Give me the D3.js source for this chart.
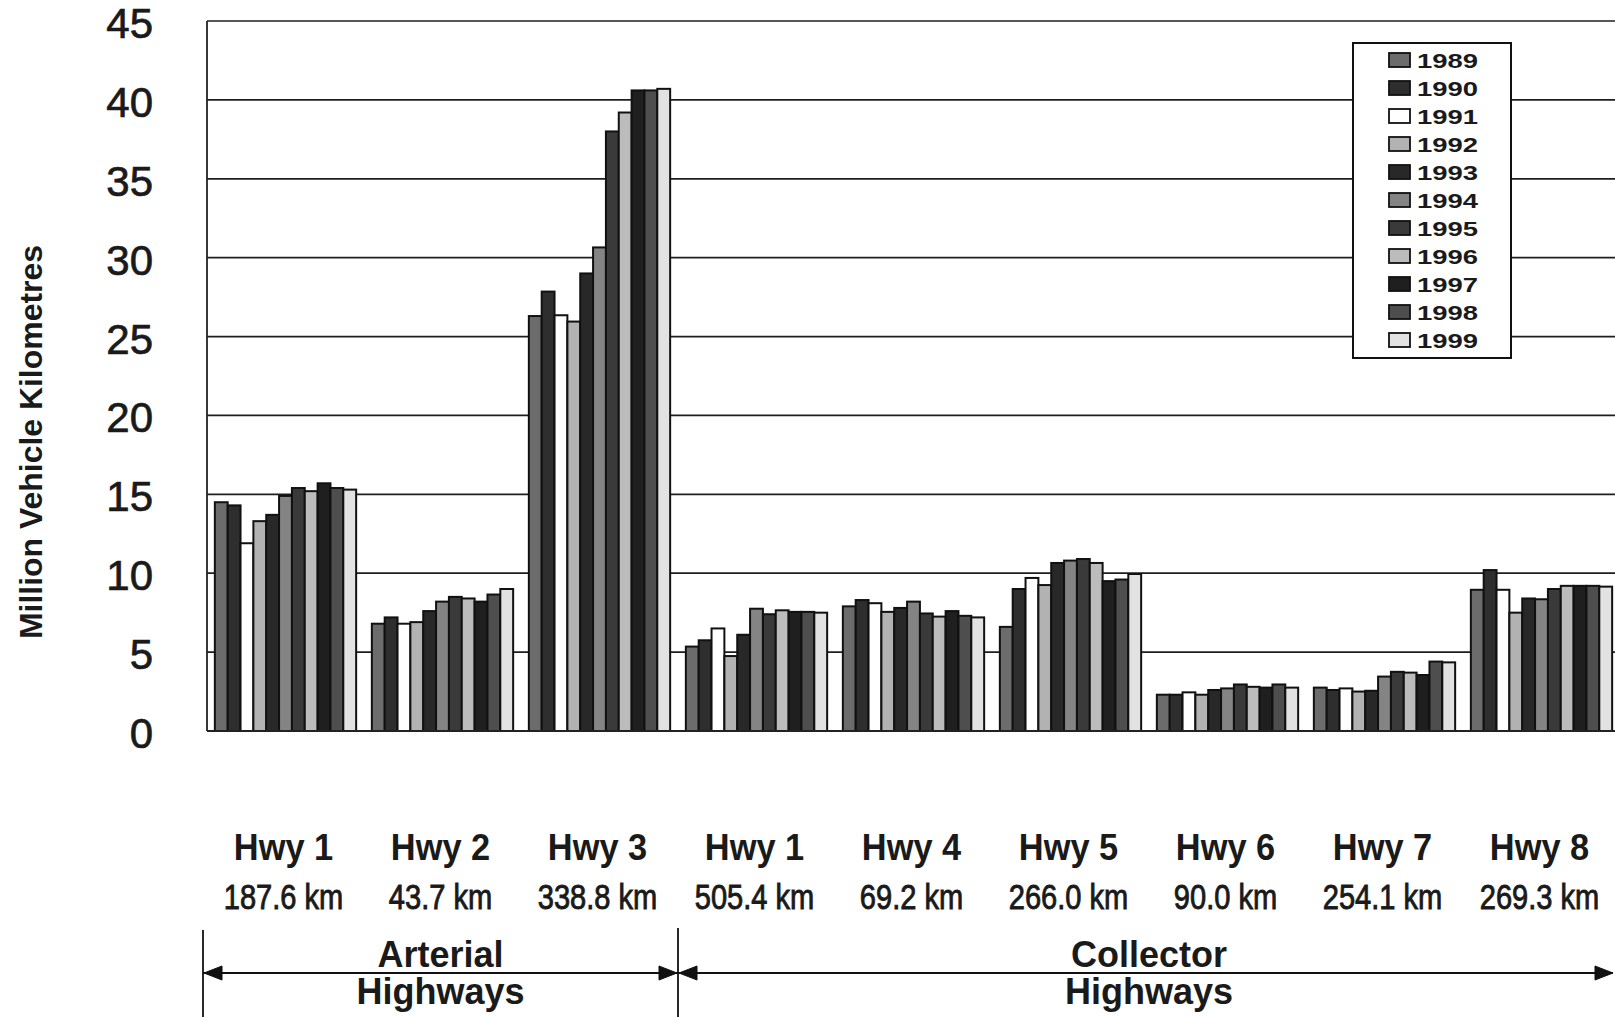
<!DOCTYPE html>
<html>
<head>
<meta charset="utf-8">
<script src="https://cdn.jsdelivr.net/npm/d3@7"></script>
<style>
  html, body { margin: 0; padding: 0; background: #fff; }
  svg { display: block; font-family: "Liberation Sans", Arial, sans-serif; }
</style>
</head>
<body>
<svg id="chart" width="1615" height="1017"></svg>
<script>
// ── Data ────────────────────────────────────────────────────────────
const highways = ["Hwy 1", "Hwy 2", "Hwy 3", "Hwy 1", "Hwy 4", "Hwy 5", "Hwy 6", "Hwy 7", "Hwy 8"];
const lengths  = ["187.6 km", "43.7 km", "338.8 km", "505.4 km", "69.2 km", "266.0 km", "90.0 km", "254.1 km", "269.3 km"];
const years    = [1989, 1990, 1991, 1992, 1993, 1994, 1995, 1996, 1997, 1998, 1999];
const yTicks   = [0, 5, 10, 15, 20, 25, 30, 35, 40, 45];

// million vehicle km per highway, 1989 → 1999
const arterialHwy1  = [14.5, 14.3, 11.9, 13.3, 13.7, 14.9, 15.4, 15.2, 15.7, 15.4, 15.3];
const arterialHwy2  = [6.8, 7.2, 6.8, 6.9, 7.6, 8.2, 8.5, 8.4, 8.2, 8.65, 9.0];
const arterialHwy3  = [26.3, 27.85, 26.35, 25.95, 29.0, 30.65, 38.0, 39.2, 40.6, 40.6, 40.7];
const collectorHwy1 = [5.35, 5.75, 6.5, 4.75, 6.1, 7.75, 7.4, 7.65, 7.55, 7.55, 7.5];
const collectorHwy4 = [7.9, 8.3, 8.1, 7.55, 7.8, 8.2, 7.45, 7.25, 7.6, 7.3, 7.2];
const collectorHwy5 = [6.6, 9.0, 9.7, 9.25, 10.65, 10.8, 10.9, 10.65, 9.5, 9.6, 9.95];
const collectorHwy6 = [2.3, 2.3, 2.45, 2.3, 2.6, 2.7, 2.95, 2.8, 2.75, 2.95, 2.75];
const collectorHwy7 = [2.75, 2.6, 2.7, 2.5, 2.55, 3.45, 3.75, 3.7, 3.55, 4.4, 4.35];
const collectorHwy8 = [8.95, 10.2, 8.95, 7.5, 8.4, 8.35, 9.0, 9.2, 9.2, 9.2, 9.15];

const series = [arterialHwy1, arterialHwy2, arterialHwy3, collectorHwy1, collectorHwy4,
                collectorHwy5, collectorHwy6, collectorHwy7, collectorHwy8];

// greyscale fills per year
const yearFills = ["#6c6c6c", "#2e2e2e", "#ffffff", "#b2b2b2", "#282828", "#848484",
                   "#3a3a3a", "#bcbcbc", "#1f1f1f", "#4e4e4e", "#e2e2e2"];

// ── Layout ──────────────────────────────────────────────────────────
const W = 1615, H = 1017;
const plotLeft = 207, plotRight = 1620, plotTop = 21, plotBottom = 731;
const ink = "#1a1a1a";

const svg = d3.select("#chart");
svg.append("rect").attr("width", W).attr("height", H).attr("fill", "#fff");

const x = d3.scaleBand()
    .domain(d3.range(highways.length))
    .range([plotLeft, plotRight])
    .paddingInner(0.1)
    .paddingOuter(0.05);

const xYear = d3.scaleBand()
    .domain(years)
    .range([0, x.bandwidth()]);

const y = d3.scaleLinear().domain([0, 45]).range([plotBottom, plotTop]);

// ── Gridlines ───────────────────────────────────────────────────────
svg.append("g")
    .selectAll("line")
    .data(yTicks.filter(d => d > 0))
    .join("line")
    .attr("x1", plotLeft).attr("x2", W)
    .attr("y1", d => y(d)).attr("y2", d => y(d))
    .attr("stroke", "#1e1e1e").attr("stroke-width", 1.7);

// ── Bars ────────────────────────────────────────────────────────────
const groups = svg.append("g")
    .selectAll("g")
    .data(series)
    .join("g")
    .attr("transform", (d, i) => `translate(${x(i)},0)`);

groups.selectAll("rect")
    .data(d => d.map((v, j) => ({ year: years[j], value: v, fill: yearFills[j] })))
    .join("rect")
    .attr("x", d => xYear(d.year))
    .attr("y", d => y(d.value))
    .attr("width", xYear.bandwidth())
    .attr("height", d => y(0) - y(d.value))
    .attr("fill", d => d.fill)
    .attr("stroke", "#111").attr("stroke-width", 2);

// axis frame
svg.append("line")
    .attr("x1", plotLeft).attr("x2", plotLeft)
    .attr("y1", plotTop).attr("y2", plotBottom)
    .attr("stroke", "#222").attr("stroke-width", 1.8);
svg.append("line")
    .attr("x1", plotLeft).attr("x2", W)
    .attr("y1", plotBottom).attr("y2", plotBottom)
    .attr("stroke", "#222").attr("stroke-width", 1.8);

// ── Y axis labels ───────────────────────────────────────────────────
svg.append("g")
    .selectAll("text")
    .data(yTicks)
    .join("text")
    .attr("x", 153)
    .attr("y", d => y(d) + 17)
    .attr("text-anchor", "end")
    .attr("font-size", 42)
    .attr("fill", ink)
    .attr("stroke", ink).attr("stroke-width", 0.7)
    .text(d => d);

svg.append("text")
    .attr("transform", `translate(31,${(245 + 639) / 2}) rotate(-90)`)
    .attr("text-anchor", "middle")
    .attr("dominant-baseline", "central")
    .attr("font-size", 32)
    .attr("font-weight", "bold")
    .attr("fill", ink)
    .attr("textLength", 394)
    .attr("lengthAdjust", "spacingAndGlyphs")
    .text("Million Vehicle Kilometres");

// ── Category labels ─────────────────────────────────────────────────
const cat = svg.append("g")
    .selectAll("g")
    .data(highways)
    .join("g")
    .attr("transform", (d, i) => `translate(${x(i) + x.bandwidth() / 2},0)`);

cat.append("text")
    .attr("transform", "translate(-2,860) scale(0.93,1)")
    .attr("text-anchor", "middle")
    .attr("font-size", 37)
    .attr("font-weight", "bold")
    .attr("fill", ink)
    .text(d => d);

cat.append("text")
    .attr("transform", "translate(-2,909) scale(0.83,1)")
    .attr("text-anchor", "middle")
    .attr("font-size", 35)
    .attr("fill", ink)
    .attr("stroke", ink).attr("stroke-width", 0.9)
    .text((d, i) => lengths[i]);

// ── Arterial / Collector brackets ──────────────────────────────────
const splitX = x(3) - x.step() * x.paddingInner() / 2;
const leftX = plotLeft - 4;
const rightX = W - 2;
const arrowY = 973;
const ann = svg.append("g").attr("stroke", "#111").attr("fill", "#111");

ann.append("line").attr("x1", leftX).attr("x2", leftX).attr("y1", 930).attr("y2", H).attr("stroke-width", 1.8);
ann.append("line").attr("x1", splitX).attr("x2", splitX).attr("y1", 928).attr("y2", H).attr("stroke-width", 1.8);
ann.append("line").attr("x1", leftX).attr("x2", rightX).attr("y1", arrowY).attr("y2", arrowY).attr("stroke-width", 2.2);

function arrowHead(tipX, dir) {
    const len = 18, half = 7;
    ann.append("path")
        .attr("d", `M${tipX},${arrowY} L${tipX - dir * len},${arrowY - half} L${tipX - dir * len},${arrowY + half} Z`)
        .attr("stroke-width", 1);
}
arrowHead(leftX + 1, -1);
arrowHead(splitX - 1, 1);
arrowHead(splitX + 1, -1);
arrowHead(rightX, 1);

const groupLabels = [
    { lines: ["Arterial", "Highways"], cx: (leftX + splitX) / 2 },
    { lines: ["Collector", "Highways"], cx: (splitX + plotRight) / 2 }
];
groupLabels.forEach(g => {
    g.lines.forEach((t, k) => {
        svg.append("text")
            .attr("x", g.cx)
            .attr("y", k === 0 ? 967 : 1004)
            .attr("text-anchor", "middle")
            .attr("font-size", 36)
            .attr("font-weight", "bold")
            .attr("fill", ink)
            .text(t);
    });
});

// ── Legend ──────────────────────────────────────────────────────────
const legend = svg.append("g");
legend.append("rect")
    .attr("x", 1353).attr("y", 43)
    .attr("width", 158).attr("height", 315)
    .attr("fill", "#fff").attr("stroke", "#111").attr("stroke-width", 2);

const rows = legend.selectAll("g.row")
    .data(years)
    .join("g")
    .attr("class", "row")
    .attr("transform", (d, i) => `translate(1389,${60 + i * 28})`);

rows.append("rect")
    .attr("x", 0).attr("y", -7)
    .attr("width", 21).attr("height", 14)
    .attr("fill", (d, i) => yearFills[i])
    .attr("stroke", "#111").attr("stroke-width", 1.8);

rows.append("text")
    .attr("x", 28).attr("y", 7.5)
    .attr("font-size", 21)
    .attr("font-weight", "bold")
    .attr("fill", ink)
    .attr("textLength", 61)
    .attr("lengthAdjust", "spacingAndGlyphs")
    .text(d => d);
</script>
</body>
</html>
